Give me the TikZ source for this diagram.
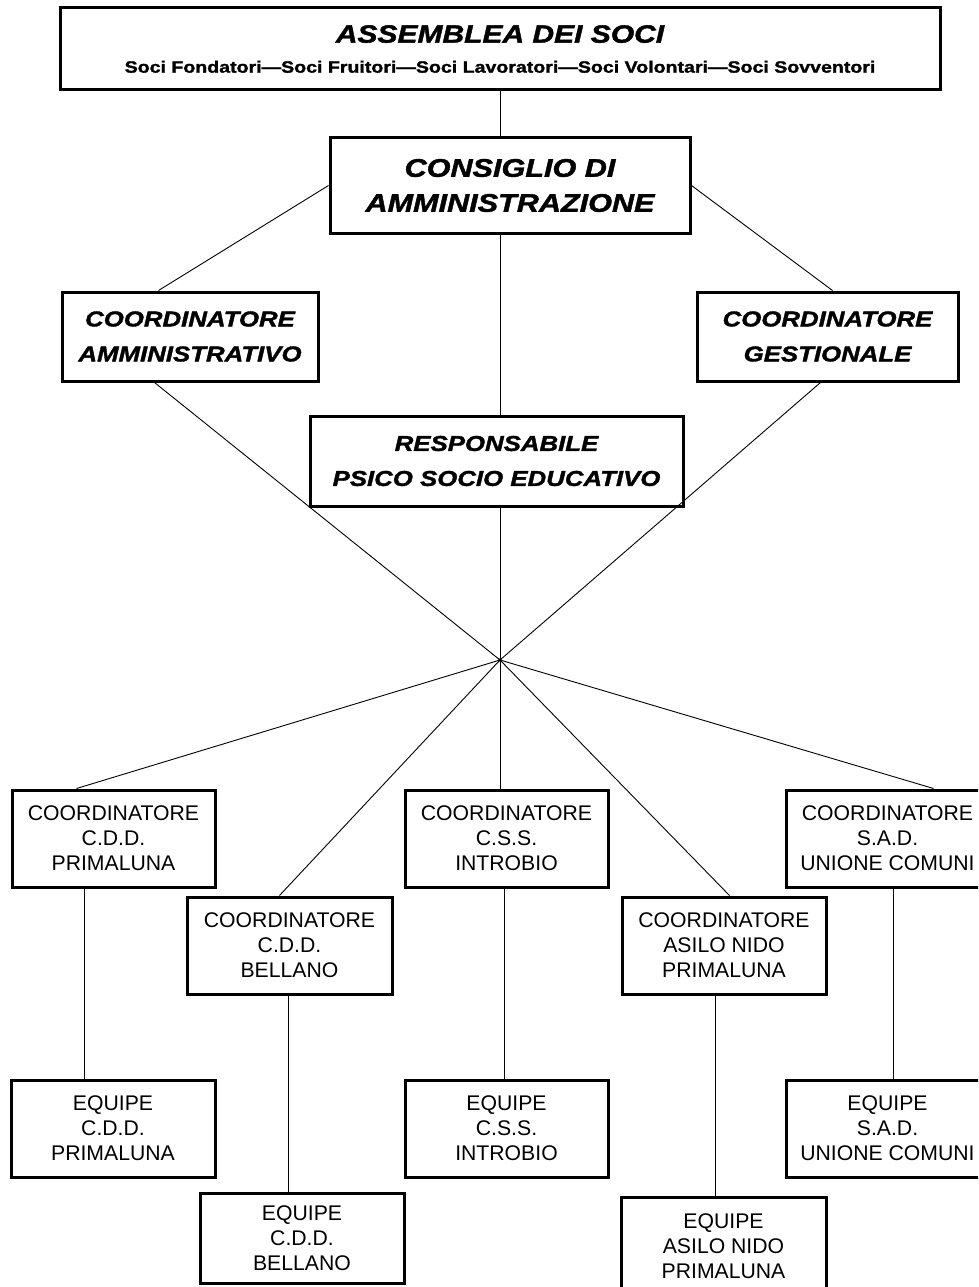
\documentclass[tikz,border=0pt]{standalone}
\usepackage{fontspec}
\setmainfont{Liberation Sans}
\newfontfamily\blk[FakeStretch=1.2,FakeBold=1.6]{Liberation Sans}
\newfontfamily\reg[FakeStretch=1.0]{Liberation Sans}
\begin{document}
\begin{tikzpicture}[x=1pt,y=-1pt,
  box/.style={draw, line width=3pt, inner sep=0pt, align=center,
    font=\reg\fontsize{21.2}{25}\selectfont},
  hbox/.style={box, font=\blk\bfseries\itshape\fontsize{21.5}{35}\selectfont},
  conn/.style={line width=0.9pt}]
\useasboundingbox (0,0) rectangle (978,1287);
\fill[white] (0,0) rectangle (978,1287);
\clip (0,0) rectangle (978,1287);

% top level
\node[box, minimum width=880pt, minimum height=82pt] (asm) at (500,49)
  {{\blk\bfseries\itshape\fontsize{25}{30}\selectfont ASSEMBLEA DEI SOCI}\\[5pt]
   {\blk\bfseries\fontsize{16.3}{18}\selectfont Soci Fondatori—Soci Fruitori—Soci Lavoratori—Soci Volontari—Soci Sovventori}};
\node[hbox, minimum width=360pt, minimum height=95pt,
  font=\blk\bfseries\itshape\fontsize{25.5}{35}\selectfont] (cda) at (510,185.5)
  {CONSIGLIO DI\\AMMINISTRAZIONE};
\node[hbox, minimum width=256pt, minimum height=89pt] (amm) at (190,336.5)
  {COORDINATORE\\AMMINISTRATIVO};
\node[hbox, minimum width=261pt, minimum height=89pt] (gest) at (827.5,336.5)
  {COORDINATORE\\GESTIONALE};
\node[hbox, minimum width=373pt, minimum height=90pt] (resp) at (496.5,461)
  {RESPONSABILE\\PSICO SOCIO EDUCATIVO};

\coordinate (hub) at (500,660);

% second level
\node[box, minimum width=203pt, minimum height=97pt] (c1) at (113.5,838.5)
  {COORDINATORE\\C.D.D.\\PRIMALUNA};
\node[box, minimum width=203pt, minimum height=97pt] (c3) at (506.5,838.5)
  {COORDINATORE\\C.S.S.\\INTROBIO};
\node[box, minimum width=203pt, minimum height=97pt] (c5) at (887.5,838.5)
  {COORDINATORE\\S.A.D.\\UNIONE COMUNI};
\node[box, minimum width=205pt, minimum height=97pt] (c2) at (289.5,945.5)
  {COORDINATORE\\C.D.D.\\BELLANO};
\node[box, minimum width=204pt, minimum height=97pt] (c4) at (724,945.5)
  {COORDINATORE\\ASILO NIDO\\PRIMALUNA};

% equipes
\node[box, minimum width=204pt, minimum height=97pt] (e1) at (113,1128.5)
  {EQUIPE\\C.D.D.\\PRIMALUNA};
\node[box, minimum width=203pt, minimum height=97pt] (e3) at (506.5,1128.5)
  {EQUIPE\\C.S.S.\\INTROBIO};
\node[box, minimum width=203pt, minimum height=97pt] (e5) at (887.5,1128.5)
  {EQUIPE\\S.A.D.\\UNIONE COMUNI};
\node[box, minimum width=204pt, minimum height=90pt] (e2) at (302,1238)
  {EQUIPE\\C.D.D.\\BELLANO};
\node[box, minimum width=205pt, minimum height=98pt] (e4) at (723.5,1246)
  {EQUIPE\\ASILO NIDO\\PRIMALUNA};

% connectors upper
\draw[conn] (asm.south -| hub) -- (cda.north -| hub);
\draw[conn] (cda.west) -- ([xshift=98pt]amm.north west);
\draw[conn] (cda.east) -- ([xshift=137pt]gest.north west);
\draw[conn] (cda.south -| hub) -- (resp.north -| hub);
\draw[conn] ([xshift=94pt]amm.south west) -- (hub);
\draw[conn] ([xshift=125pt]gest.south west) -- (hub);
\draw[conn] (resp.south -| hub) -- (hub);

% connectors lower
\draw[conn] (hub) -- ([xshift=66pt]c1.north west);
\draw[conn] (hub) -- ([xshift=94pt]c2.north west);
\draw[conn] (hub) -- (c3.north -| hub);
\draw[conn] (hub) -- ([xshift=109pt]c4.north west);
\draw[conn] (hub) -- ([xshift=149pt]c5.north west);
\fill (hub) circle (1.8pt);

% verticals
\draw[conn] ([xshift=74pt]c1.south west) coordinate (v1) -- (v1 |- e1.north);
\draw[conn] ([xshift=103pt]c2.south west) coordinate (v2) -- (v2 |- e2.north);
\draw[conn] ([xshift=101pt]c3.south west) coordinate (v3) -- (v3 |- e3.north);
\draw[conn] ([xshift=95pt]c4.south west) coordinate (v4) -- (v4 |- e4.north);
\draw[conn] ([xshift=109pt]c5.south west) coordinate (v5) -- (v5 |- e5.north);
\end{tikzpicture}
\end{document}
